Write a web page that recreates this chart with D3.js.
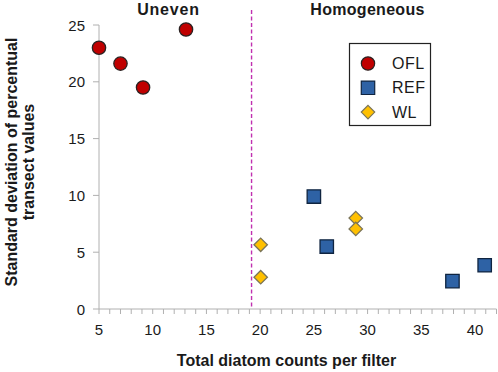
<!DOCTYPE html>
<html lang="en">
<head>
  <meta charset="UTF-8">
  <title>Diatom counts</title>
  <script src="https://d3js.org/d3.v7.min.js"></script>
  <style>
    body { margin: 0; background: #fff; }
    text { font-family: "Liberation Sans", Arial, sans-serif; fill: #1a1a1a; }
  </style>
</head>
<body>
  <svg width="498" height="372"></svg>
<script>
// data
var oflX = [5, 7, 9.1, 13.1],
    oflY = [23.0, 21.6, 19.5, 24.6];
var refX = [25, 26.2, 37.9, 40.9],
    refY = [9.9, 5.5, 2.45, 3.85];
var wlX = [20.05, 20.05, 28.9, 28.9],
    wlY = [5.65, 2.8, 8.0, 7.05];
var xTicks = [5, 10, 15, 20, 25, 30, 35, 40],
    yTicks = [0, 5, 10, 15, 20, 25];
var splitAt = 19.2;

var svg = d3.select("svg");

var x = d3.scaleLinear().domain([5, 42]).range([99, 496.5]);
var y = d3.scaleLinear().domain([0, 25]).range([309, 25]);

var axisColor = "#b0b0b0";

// x axis, small ticks every 1
var gx = svg.append("g").attr("transform", "translate(0,309)");
gx.append("line").attr("x1", x(5)).attr("x2", x(42)).attr("stroke", axisColor);
gx.selectAll(".minor").data(d3.range(5, 43)).enter().append("line")
  .attr("x1", d => x(d)).attr("x2", d => x(d))
  .attr("y1", 0).attr("y2", 5).attr("stroke", axisColor);
gx.selectAll(".lab").data(xTicks).enter().append("text")
  .attr("x", d => x(d)).attr("y", 26)
  .attr("text-anchor", "middle").attr("font-size", 15)
  .text(d => d);

// y axis
var gy = svg.append("g").attr("transform", "translate(99,0)");
gy.append("line").attr("y1", y(0)).attr("y2", y(25)).attr("stroke", axisColor);
gy.selectAll(".tk").data(yTicks).enter().append("line")
  .attr("x1", -6).attr("x2", 0)
  .attr("y1", d => y(d)).attr("y2", d => y(d)).attr("stroke", axisColor);
gy.selectAll(".lab").data(yTicks).enter().append("text")
  .attr("x", -14).attr("y", d => y(d) + 5.5)
  .attr("text-anchor", "end").attr("font-size", 15)
  .text(d => d);

// split line
svg.append("line")
  .attr("x1", x(splitAt)).attr("x2", x(splitAt))
  .attr("y1", 10).attr("y2", 309)
  .attr("stroke", "#c030b0").attr("stroke-width", 1.4)
  .attr("stroke-dasharray", "4,2.5");

svg.append("text").attr("x", 168.5).attr("y", 15)
  .attr("text-anchor", "middle").attr("font-size", 16).attr("font-weight", "bold")
  .attr("letter-spacing", 0.8)
  .text("Uneven");
svg.append("text").attr("x", 367.5).attr("y", 15)
  .attr("text-anchor", "middle").attr("font-size", 16).attr("font-weight", "bold")
  .attr("letter-spacing", 0.3)
  .text("Homogeneous");

// axis titles
svg.append("text").attr("x", 286.5).attr("y", 366)
  .attr("text-anchor", "middle").attr("font-size", 16).attr("font-weight", "bold")
  .text("Total diatom counts per filter");
var yl = svg.append("text")
  .attr("transform", "translate(17,162) rotate(-90)")
  .attr("text-anchor", "middle").attr("font-size", 16).attr("font-weight", "bold");
yl.append("tspan").attr("x", 0).attr("dy", 0).text("Standard deviation of percentual");
yl.append("tspan").attr("x", 0).attr("dy", 17).text("transect values");

// marks
var diamond = {
  draw: function(ctx, size) {
    var r = Math.sqrt(size / 2);
    ctx.moveTo(0, -r); ctx.lineTo(r, 0); ctx.lineTo(0, r); ctx.lineTo(-r, 0); ctx.closePath();
  }
};
var sym = {
  OFL: { shape: d3.symbolCircle, size: 140, fill: "#c00000", stroke: "#2a2222" },
  REF: { shape: d3.symbolSquare, size: 180, fill: "#2e62a5", stroke: "#0f2440" },
  WL:  { shape: diamond, size: 90, fill: "#ffc000", stroke: "#7a7458" }
};
function drawSeries(xs, ys, key) {
  var s = sym[key];
  svg.append("g").selectAll("path").data(xs).enter().append("path")
    .attr("transform", (d, i) => "translate(" + x(d) + "," + y(ys[i]) + ")")
    .attr("d", d3.symbol().type(s.shape).size(s.size))
    .attr("fill", s.fill).attr("stroke", s.stroke).attr("stroke-width", 1.3);
}
drawSeries(wlX, wlY, "WL");
drawSeries(refX, refY, "REF");
drawSeries(oflX, oflY, "OFL");

// legend
var lg = svg.append("g");
lg.append("rect").attr("x", 349.5).attr("y", 43.5).attr("width", 81).attr("height", 82)
  .attr("fill", "#fff").attr("stroke", "#222").attr("stroke-width", 1.2);
["OFL", "REF", "WL"].forEach(function(k, i) {
  var s = sym[k], cy = 63.5 + i * 24.3;
  lg.append("path").attr("transform", "translate(368," + cy + ")")
    .attr("d", d3.symbol().type(s.shape).size(s.size))
    .attr("fill", s.fill).attr("stroke", s.stroke).attr("stroke-width", 1.2);
  lg.append("text").attr("x", 392).attr("y", cy + 5.5).attr("font-size", 16)
    .attr("letter-spacing", 0.5).text(k);
});
</script>
</body>
</html>
